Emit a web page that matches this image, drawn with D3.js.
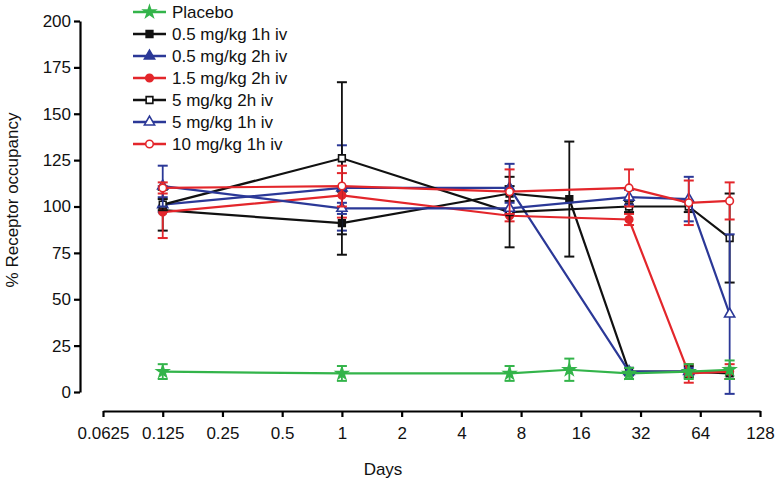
<!DOCTYPE html>
<html><head><meta charset="utf-8">
<script src="https://cdn.jsdelivr.net/npm/d3@7"></script>
<style>
html,body{margin:0;padding:0;background:#fff;}
svg{display:block;font-family:"Liberation Sans",Arial,Helvetica,sans-serif;}
</style></head>
<body>
<svg id="chart" width="777" height="482"></svg>
<script>
// ---- data ----
const days = [0.125, 1, 7, 14, 28, 56, 90];
const xTickValues = [0.0625, 0.125, 0.25, 0.5, 1, 2, 4, 8, 16, 32, 64, 128];
const xTickLabels = ["0.0625", "0.125", "0.25", "0.5", "1", "2", "4", "8", "16", "32", "64", "128"];
const yTickValues = [0, 25, 50, 75, 100, 125, 150, 175, 200];
const seriesNames = ["Placebo", "0.5 mg/kg 1h iv", "0.5 mg/kg 2h iv", "1.5 mg/kg 2h iv", "5 mg/kg 2h iv", "5 mg/kg 1h iv", "10 mg/kg 1h iv"];
const placebo      = [11, 10, 10, 12, 10, 11, 12];
const placeboErr   = [4, 4, 4, 6, 3, 4, 5];
const mg05_1h      = [98, 91, 107, 104, 11, 11, 10];
const mg05_1hErr   = [11, 17, 4, 31, 2, 3, 3];
const mg05_2h      = [101, 110, 110, null, 11, 11, null];
const mg05_2hErr   = [4, 23, 13, null, 2, 2, null];
const mg15_2h      = [97, 106, 95, null, 93, 10, 11];
const mg15_2hErr   = [14, 12, 3, null, 3, 5, 4];
const mg5_2h       = [101, 126, 97, null, 100, 100, 83];
const mg5_2hErr    = [3, 41, 19, null, 3, 3, 24];
const mg5_1h       = [111, 99, 99, null, 105, 104, 42];
const mg5_1hErr    = [11, 3, 3, null, 4, 12, 43];
const mg10_1h      = [110, 111, 108, null, 110, 102, 103];
const mg10_1hErr   = [3, 11, 12, null, 10, 12, 10];

const seriesValues = [placebo, mg05_1h, mg05_2h, mg15_2h, mg5_2h, mg5_1h, mg10_1h];
const seriesErrors = [placeboErr, mg05_1hErr, mg05_2hErr, mg15_2hErr, mg5_2hErr, mg5_1hErr, mg10_1hErr];
const seriesColors = ["#33b44a", "#111111", "#2b3897", "#e3262b", "#111111", "#2b3897", "#e3262b"];
const seriesSymbols = ["star", "square", "triangle", "circle", "square", "triangle", "circle"];
const seriesFilled = [true, true, true, true, false, false, false];

// ---- scales ----
const svg = d3.select("#chart");
const x = d3.scaleLog().base(2).domain([0.0625, 128]).range([103, 760]);
const y = d3.scaleLinear().domain([0, 200]).range([392, 21]);
const FONT = 17;

// axes
const yAxis = svg.append("g").attr("transform", "translate(80,0)")
  .call(d3.axisLeft(y).tickValues(yTickValues).tickSize(6).tickSizeOuter(0).tickPadding(3));
const xAxis = svg.append("g").attr("transform", "translate(0,411)")
  .call(d3.axisBottom(x).tickValues(xTickValues).tickFormat((d, i) => xTickLabels[i]).tickSize(6).tickSizeOuter(0).tickPadding(10));
[yAxis, xAxis].forEach(a => {
  a.selectAll("path.domain").attr("stroke", "#000").attr("stroke-width", 2.2);
  a.selectAll(".tick line").attr("stroke", "#000").attr("stroke-width", 2.2);
  a.selectAll(".tick text").attr("fill", "#111").style("font-size", FONT + "px")
    .style("font-family", '"Liberation Sans",Arial,sans-serif');
});

svg.append("text").attr("x", 383).attr("y", 475).attr("text-anchor", "middle")
  .style("font-size", FONT + "px").attr("fill", "#111").text("Days");
svg.append("text").attr("transform", "translate(18,200) rotate(-90)").attr("text-anchor", "middle")
  .style("font-size", FONT + "px").attr("fill", "#111").text("% Receptor occupancy");

function symbolPath(kind) {
  const t = {star: d3.symbolStar, square: d3.symbolSquare, triangle: d3.symbolTriangle, circle: d3.symbolCircle}[kind];
  const size = {star: 42, square: 45, triangle: 45, circle: 45}[kind];
  return d3.symbol().type(t).size(size)();
}

const line = d3.line().defined(d => d.v != null).x(d => x(d.d)).y(d => y(d.v));

// draw series (placebo last so it sits on top at the bottom cluster, as in reference)
const order = [1, 2, 3, 4, 5, 6, 0];
order.forEach(si => {
  const vals = seriesValues[si], errs = seriesErrors[si], col = seriesColors[si];
  const pts = days.map((d, i) => ({d: d, v: vals[i], e: errs[i]})).filter(p => p.v != null);
  const g = svg.append("g");
  g.append("path").datum(pts).attr("d", line).attr("fill", "none").attr("stroke", col).attr("stroke-width", 2.2);
  const eb = g.selectAll(".eb").data(pts).enter().append("g");
  eb.append("line").attr("x1", p => x(p.d)).attr("x2", p => x(p.d))
    .attr("y1", p => y(p.v + p.e)).attr("y2", p => y(p.v - p.e)).attr("stroke", col).attr("stroke-width", 1.8);
  [1, -1].forEach(s => {
    eb.append("line").attr("x1", p => x(p.d) - 5).attr("x2", p => x(p.d) + 5)
      .attr("y1", p => y(p.v + s * p.e)).attr("y2", p => y(p.v + s * p.e)).attr("stroke", col).attr("stroke-width", 2);
  });
  g.selectAll(".mk").data(pts).enter().append("path")
    .attr("transform", p => `translate(${x(p.d)},${y(p.v)})`)
    .attr("d", symbolPath(seriesSymbols[si]))
    .attr("fill", seriesFilled[si] ? col : "#fff").attr("stroke", col).attr("stroke-width", 1.6);
});

// legend
const leg = svg.append("g");
seriesNames.forEach((name, i) => {
  const yy = 12 + i * 22;
  const col = seriesColors[i];
  leg.append("line").attr("x1", 133).attr("x2", 166).attr("y1", yy).attr("y2", yy).attr("stroke", col).attr("stroke-width", 2.5);
  leg.append("path").attr("transform", `translate(149.5,${yy})`).attr("d", symbolPath(seriesSymbols[i]))
    .attr("fill", seriesFilled[i] ? col : "#fff").attr("stroke", col).attr("stroke-width", 1.6);
  leg.append("text").attr("x", 172).attr("y", yy + 6).style("font-size", FONT + "px").attr("fill", "#111").text(name);
});
</script>
</body></html>
